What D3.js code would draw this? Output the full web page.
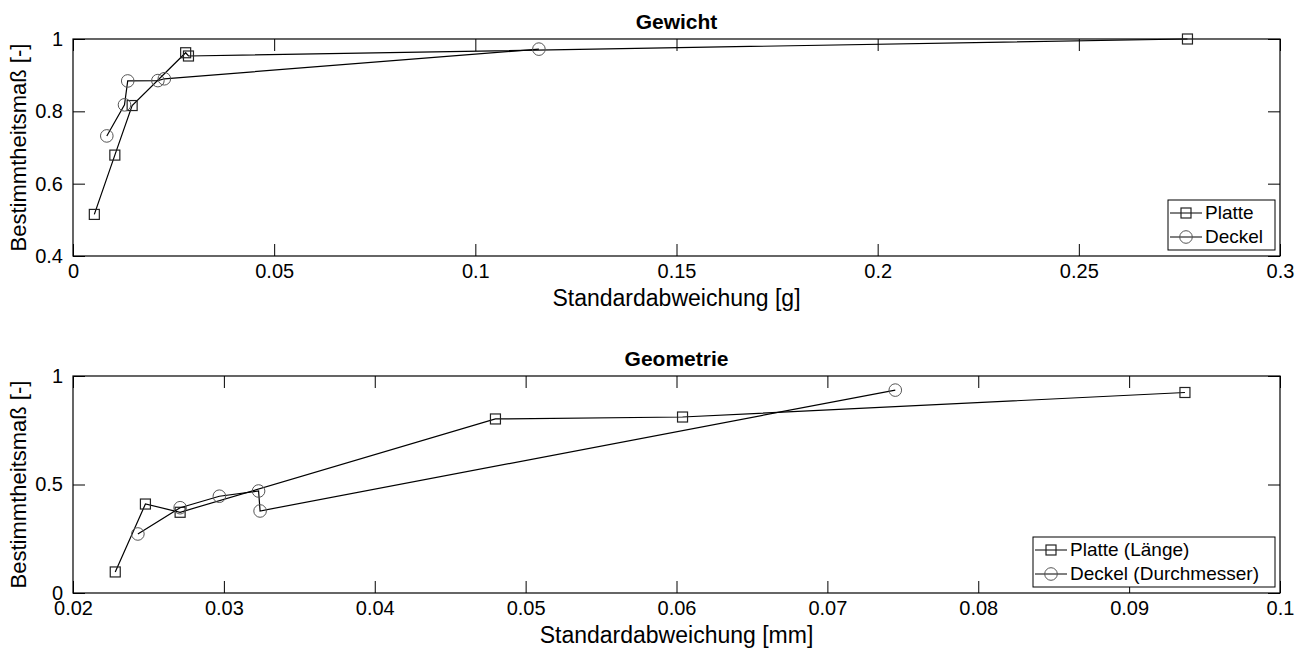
<!DOCTYPE html>
<html>
<head>
<meta charset="utf-8">
<script src="https://cdn.jsdelivr.net/npm/d3@7"></script>
<style>
  body { margin: 0; background: #fff; }
  svg text { font-family: "Liberation Sans", Arial, sans-serif; fill: #000; }
</style>
</head>
<body>
<div id="chart"></div>
<script>
// Gewicht panel
var gewPlatteX = [0.0053, 0.0104, 0.0147, 0.0280, 0.0287, 0.277];
var gewPlatteY = [0.515, 0.679, 0.816, 0.962, 0.953, 1.0];
var gewDeckelX = [0.0084, 0.0128, 0.0136, 0.0211, 0.0227, 0.1158];
var gewDeckelY = [0.732, 0.818, 0.884, 0.885, 0.890, 0.972];
var gewXTicks = [0, 0.05, 0.1, 0.15, 0.2, 0.25, 0.3];
var gewYTicks = [0.4, 0.6, 0.8, 1];

// Geometrie panel
var geoPlatteX = [0.0228, 0.0248, 0.0271, 0.0480, 0.0604, 0.0937];
var geoPlatteY = [0.097, 0.410, 0.372, 0.802, 0.811, 0.924];
var geoDeckelX = [0.0243, 0.0271, 0.0297, 0.0323, 0.0324, 0.0745];
var geoDeckelY = [0.272, 0.393, 0.446, 0.470, 0.378, 0.935];
var geoXTicks = [0.02, 0.03, 0.04, 0.05, 0.06, 0.07, 0.08, 0.09, 0.1];
var geoYTicks = [0, 0.5, 1];

var W = 1304, H = 650;
var svg = d3.select("#chart").append("svg")
    .attr("width", W)
    .attr("height", H);

function zip(xs, ys) {
    return xs.map(function(v, i) { return [v, ys[i]]; });
}

function panel(opt) {
    var left = 73, right = 1280;
    var x = d3.scaleLinear().domain(opt.xDomain).range([left, right]);
    var y = d3.scaleLinear().domain(opt.yDomain).range([opt.bottom, opt.top]);
    var tl = 12;
    var g = svg.append("g");

    // inward ticks on all four sides (matlab box style)
    var fmt = function(d) { return d3.format("~g")(d); };
    g.append("g").attr("transform", "translate(0," + opt.bottom + ")")
        .call(d3.axisBottom(x).tickValues(opt.xTicks).tickSizeInner(-tl).tickSizeOuter(0).tickPadding(8).tickFormat(fmt));
    g.append("g").attr("transform", "translate(0," + opt.top + ")")
        .call(d3.axisTop(x).tickValues(opt.xTicks).tickSizeInner(-tl).tickSizeOuter(0).tickFormat(""));
    g.append("g").attr("transform", "translate(" + left + ",0)")
        .call(d3.axisLeft(y).tickValues(opt.yTicks).tickSizeInner(-tl).tickSizeOuter(0).tickPadding(10).tickFormat(fmt));
    g.append("g").attr("transform", "translate(" + right + ",0)")
        .call(d3.axisRight(y).tickValues(opt.yTicks).tickSizeInner(-tl).tickSizeOuter(0).tickFormat(""));
    g.selectAll(".domain").remove();
    g.selectAll(".tick line").attr("stroke", "#000").attr("stroke-width", 1);
    g.selectAll(".tick text").attr("font-size", 20).attr("font-family", "Liberation Sans, Arial, sans-serif");

    g.append("rect")
        .attr("x", left).attr("y", opt.top)
        .attr("width", right - left).attr("height", opt.bottom - opt.top)
        .attr("fill", "none").attr("stroke", "#000").attr("stroke-width", 1.2);

    var line = d3.line()
        .x(function(d) { return x(d[0]); })
        .y(function(d) { return y(d[1]); });

    opt.series.forEach(function(s) {
        var pts = zip(s.x, s.y);
        g.append("path").datum(pts)
            .attr("d", line)
            .attr("fill", "none").attr("stroke", "#000").attr("stroke-width", 1.2);
        drawMarkers(g, pts.map(function(d) { return [x(d[0]), y(d[1])]; }), s.marker);
    });

    // title and labels
    g.append("text")
        .attr("x", (left + right) / 2).attr("y", opt.top - 10)
        .attr("text-anchor", "middle").attr("font-size", 21).attr("font-weight", "bold")
        .text(opt.title);
    g.append("text")
        .attr("x", (left + right) / 2).attr("y", opt.bottom + 50)
        .attr("text-anchor", "middle").attr("font-size", 23)
        .text(opt.xLabel);
    g.append("text")
        .attr("transform", "translate(26," + (opt.top + opt.bottom) / 2 + ") rotate(-90)")
        .attr("text-anchor", "middle").attr("font-size", 22)
        .text("Bestimmtheitsmaß [-]");

    // legend, bottom right
    var lg = g.append("g");
    var rowH = 24, boxW = opt.legendW, boxH = rowH * opt.series.length + 2;
    var bx = right - 5 - boxW, by = opt.bottom - 6 - boxH;
    lg.append("rect")
        .attr("x", bx).attr("y", by).attr("width", boxW).attr("height", boxH)
        .attr("fill", "#fff").attr("stroke", "#000").attr("stroke-width", 1);
    opt.series.forEach(function(s, i) {
        var cy = by + 13 + i * rowH;
        lg.append("line")
            .attr("x1", bx + 2).attr("x2", bx + 34).attr("y1", cy).attr("y2", cy)
            .attr("stroke", "#000").attr("stroke-width", 1);
        drawMarkers(lg, [[bx + 18, cy]], s.marker);
        lg.append("text")
            .attr("x", bx + 37).attr("y", cy + 6)
            .attr("font-size", 19)
            .text(s.name);
    });
}

function drawMarkers(g, pts, kind) {
    if (kind === "square") {
        g.selectAll(null).data(pts).enter().append("rect")
            .attr("x", function(d) { return d[0] - 5; })
            .attr("y", function(d) { return d[1] - 5; })
            .attr("width", 10).attr("height", 10)
            .attr("fill", "none").attr("stroke", "#222").attr("stroke-width", 1.2);
    } else {
        g.selectAll(null).data(pts).enter().append("circle")
            .attr("cx", function(d) { return d[0]; })
            .attr("cy", function(d) { return d[1]; })
            .attr("r", 6.3)
            .attr("fill", "none").attr("stroke", "#555").attr("stroke-width", 1);
    }
}

panel({
    title: "Gewicht",
    xLabel: "Standardabweichung [g]",
    top: 39, bottom: 256,
    xDomain: [0, 0.3], yDomain: [0.4, 1],
    xTicks: gewXTicks, yTicks: gewYTicks,
    legendW: 107,
    series: [
        {name: "Platte", x: gewPlatteX, y: gewPlatteY, marker: "square"},
        {name: "Deckel", x: gewDeckelX, y: gewDeckelY, marker: "circle"}
    ]
});

panel({
    title: "Geometrie",
    xLabel: "Standardabweichung [mm]",
    top: 376, bottom: 593,
    xDomain: [0.02, 0.1], yDomain: [0, 1],
    xTicks: geoXTicks, yTicks: geoYTicks,
    legendW: 242,
    series: [
        {name: "Platte (Länge)", x: geoPlatteX, y: geoPlatteY, marker: "square"},
        {name: "Deckel (Durchmesser)", x: geoDeckelX, y: geoDeckelY, marker: "circle"}
    ]
});
</script>
</body>
</html>
